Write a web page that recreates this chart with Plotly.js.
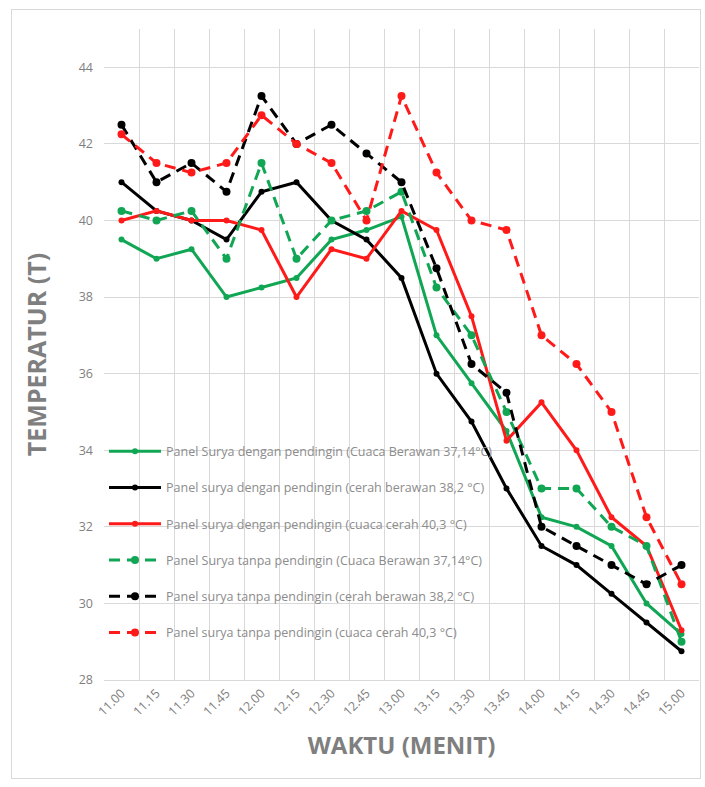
<!DOCTYPE html>
<html>
<head>
<meta charset="utf-8">
<script src="https://cdn.plot.ly/plotly-3.0.1.min.js"></script>
<style>
  html, body { margin: 0; padding: 0; background: #fff; }
  #wrap { position: relative; width: 705px; height: 787px; }
  #chart { width: 705px; height: 787px; }
  #frame { position: absolute; left: 11px; top: 9px; width: 690px; height: 770px; border: 1px solid #d9d9d9; pointer-events: none; box-sizing: border-box; }
</style>
</head>
<body>
<div id="wrap">
  <div id="chart"></div>
  <div id="frame"></div>
</div>
<script>
const waktu = ["11.00","11.15","11.30","11.45","12.00","12.15","12.30","12.45","13.00","13.15","13.30","13.45","14.00","14.15","14.30","14.45","15.00"];

const denganBerawan  = [39.5, 39.0, 39.25, 38.0, 38.25, 38.5, 39.5, 39.75, 40.1, 37.0, 35.75, 34.5, 32.25, 32.0, 31.5, 30.0, 29.2];
const denganCerahBer = [41.0, 40.25, 40.0, 39.5, 40.75, 41.0, 40.0, 39.5, 38.5, 36.0, 34.75, 33.0, 31.5, 31.0, 30.25, 29.5, 28.75];
const denganCerah    = [40.0, 40.25, 40.0, 40.0, 39.75, 38.0, 39.25, 39.0, 40.25, 39.75, 37.5, 34.25, 35.25, 34.0, 32.25, 31.5, 29.3];
const tanpaBerawan   = [40.25, 40.0, 40.25, 39.0, 41.5, 39.0, 40.0, 40.25, 40.75, 38.25, 37.0, 35.0, 33.0, 33.0, 32.0, 31.5, 29.0];
const tanpaCerahBer  = [42.5, 41.0, 41.5, 40.75, 43.25, 42.0, 42.5, 41.75, 41.0, 38.75, 36.25, 35.5, 32.0, 31.5, 31.0, 30.5, 31.0];
const tanpaCerah     = [42.25, 41.5, 41.25, 41.5, 42.75, 42.0, 41.5, 40.0, 43.25, 41.25, 40.0, 39.75, 37.0, 36.25, 35.0, 32.25, 30.5];

const names = [
  "Panel Surya dengan pendingin (Cuaca Berawan 37,14°C)",
  "Panel surya dengan pendingin (cerah berawan 38,2 °C)",
  "Panel surya dengan pendingin (cuaca cerah 40,3 °C)",
  "Panel Surya tanpa pendingin (Cuaca Berawan 37,14°C)",
  "Panel surya tanpa pendingin (cerah berawan 38,2 °C)",
  "Panel surya tanpa pendingin (cuaca cerah 40,3 °C)"
];

const GREEN = "#10a654", BLACK = "#000000", RED = "#ff1a1a";
const series = [denganBerawan, denganCerahBer, denganCerah, tanpaBerawan, tanpaCerahBer, tanpaCerah];
const colors = [GREEN, BLACK, RED, GREEN, BLACK, RED];
const dashed = [false, false, false, true, true, true];

const traces = series.map((ys, i) => ({
  type: "scatter",
  mode: "lines+markers",
  x: waktu,
  y: ys,
  name: names[i],
  legendgroup: "g" + i,
  line: { color: colors[i], width: 3, dash: dashed[i] ? "11px,7px" : "solid" },
  marker: { color: colors[i], size: dashed[i] ? 8 : 6, symbol: "circle" }
}));

const layout = {
  width: 705,
  height: 787,
  margin: { l: 104, r: 6, t: 29, b: 107 },
  paper_bgcolor: "#ffffff",
  plot_bgcolor: "#ffffff",
  font: { family: "Open Sans, Liberation Sans, sans-serif", color: "#7f7f7f" },
  showlegend: true,
  legend: {
    x: 0.0, y: 0.374, xanchor: "left", yanchor: "top",
    bgcolor: "rgba(0,0,0,0)",
    font: { size: 12.5, color: "#8c8c8c" },
    traceorder: "grouped",
    tracegroupgap: 17,
    itemwidth: 52
  },
  xaxis: {
    type: "category",
    range: [-0.5, 16.5],
    tickson: "boundaries",
    showgrid: true,
    gridcolor: "#d9d9d9",
    gridwidth: 1,
    showline: true,
    linecolor: "#d9d9d9",
    linewidth: 1,
    ticks: "",
    tickangle: -45,
    tickfont: { size: 12.5, color: "#7f7f7f" },
    title: { text: "WAKTU (MENIT)", font: { size: 24, color: "#7f7f7f", family: "Open Sans, sans-serif", weight: "bold" }, standoff: 18 },
    automargin: false,
    zeroline: false
  },
  yaxis: {
    range: [28, 45],
    tick0: 28,
    dtick: 2,
    showgrid: true,
    gridcolor: "#d9d9d9",
    gridwidth: 1,
    showline: false,
    zeroline: false,
    ticks: "",
    ticklabelstandoff: 10,
    tickfont: { size: 12.5, color: "#7f7f7f" },
    title: { text: "TEMPERATUR (T)", font: { size: 25, color: "#7f7f7f", family: "Open Sans, sans-serif", weight: "bold" }, standoff: 24 },
    automargin: false
  }
};

Plotly.newPlot("chart", traces, layout, { displayModeBar: false, staticPlot: true });
</script>
</body>
</html>
